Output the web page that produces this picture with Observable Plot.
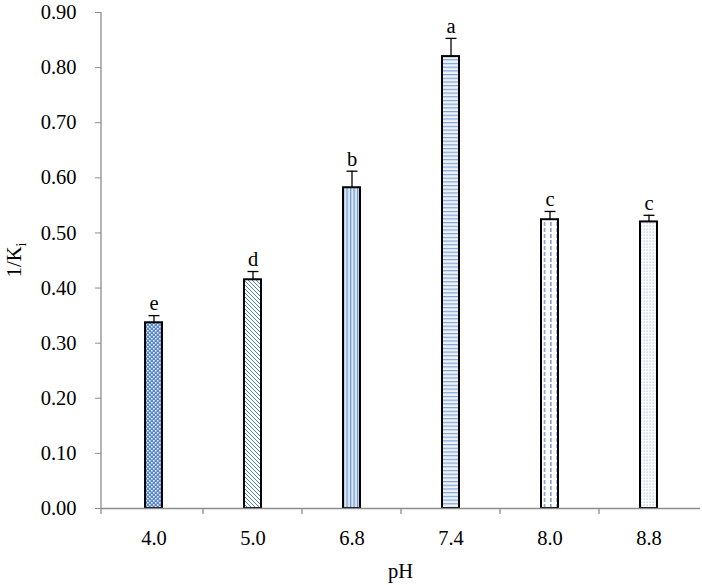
<!DOCTYPE html>
<html><head><meta charset="utf-8">
<script src="https://cdn.jsdelivr.net/npm/d3@7"></script>
<script src="https://cdn.jsdelivr.net/npm/@observablehq/plot@0.6"></script>
<style>body{margin:0;background:#fff} svg{display:block}</style>
</head><body><div id="chart"></div>
<script>
const categories = ["4.0", "5.0", "6.8", "7.4", "8.0", "8.8"];
const values = [0.337, 0.415, 0.582, 0.820, 0.524, 0.520];
const errors = [0.013, 0.015, 0.030, 0.033, 0.015, 0.012];
const letters = ["e", "d", "b", "a", "c", "c"];
const yTicks = [0, 0.1, 0.2, 0.3, 0.4, 0.5, 0.6, 0.7, 0.8, 0.9];
const xLabel = "pH";
const yLabelMain = "1/K";
const yLabelSub = "i";

const data = categories.map((c, i) => ({pH: c, v: values[i], top: values[i] + errors[i], letter: letters[i]}));
const cap = {draw(ctx, size) { const w = Math.sqrt(size / Math.PI); ctx.moveTo(-w, 0); ctx.lineTo(w, 0); }};
const font = "'Liberation Serif','Times New Roman',serif";
const axisGray = "#8c8c8c";

const svg = Plot.plot({
  width: 702, height: 585, marginLeft: 101, marginRight: 2, marginTop: 12, marginBottom: 77,
  style: {fontFamily: font, fontSize: "20.5px", background: "#fff", color: "#000", overflow: "visible"},
  x: {domain: categories, paddingInner: 0.83, paddingOuter: 0.415, tickSize: 0, tickPadding: 22, label: null},
  y: {domain: [0, 0.9], ticks: yTicks, tickFormat: d3.format(".2f"), tickSize: 6, tickPadding: 19, label: null},
  marks: [
    Plot.ruleX(data, {x: "pH", y1: "v", y2: "top", stroke: "#000", strokeWidth: 1.3}),
    Plot.dot(data, {x: "pH", y: "top", symbol: cap, r: 5.5, stroke: "#000", strokeWidth: 1.3, fill: "none"}),
    Plot.barY(data, {x: "pH", y: "v", fill: "#fff", stroke: "#000", strokeWidth: 2}),
    Plot.text(data, {x: "pH", y: "top", text: "letter", dy: -12, fontSize: 20.5, fill: "#000"}),
    Plot.ruleY([0], {stroke: axisGray, strokeWidth: 1.3})
  ]
});
document.getElementById("chart").appendChild(svg);

const root = d3.select(svg);
const blue = "#4f81bd";
const defs = root.insert("defs", ":first-child");
// pattern 0: checker dots
let p = defs.append("pattern").attr("id", "pat0").attr("patternUnits", "userSpaceOnUse").attr("width", 4).attr("height", 4);
p.append("rect").attr("width", 4).attr("height", 4).attr("fill", "#5a88c8");
p.append("rect").attr("x", 0).attr("y", 0).attr("width", 1.6).attr("height", 1.6).attr("fill", "#e6eef8");
p.append("rect").attr("x", 2).attr("y", 2).attr("width", 1.6).attr("height", 1.6).attr("fill", "#e6eef8");
// pattern 1: diagonal hatch
p = defs.append("pattern").attr("id", "pat1").attr("patternUnits", "userSpaceOnUse").attr("width", 4).attr("height", 4);
p.append("rect").attr("width", 4).attr("height", 4).attr("fill", "#fff");
p.append("path").attr("d", "M-1,-1L5,5M-1,3L1,5M3,-1L5,1").attr("stroke", blue).attr("stroke-width", 1);
// pattern 2: vertical stripes
p = defs.append("pattern").attr("id", "pat2").attr("patternUnits", "userSpaceOnUse").attr("width", 3.5).attr("height", 4);
p.append("rect").attr("width", 3.5).attr("height", 4).attr("fill", "#dbe6f4");
p.append("rect").attr("x", 0).attr("width", 1.2).attr("height", 4).attr("fill", "#6d97cf");
// pattern 3: horizontal stripes
p = defs.append("pattern").attr("id", "pat3").attr("patternUnits", "userSpaceOnUse").attr("width", 4).attr("height", 3.7);
p.append("rect").attr("width", 4).attr("height", 3.7).attr("fill", "#eef3fa");
p.append("rect").attr("y", 0).attr("width", 4).attr("height", 1.2).attr("fill", "#7ea2d4");
// pattern 4: dashed vertical lines
p = defs.append("pattern").attr("id", "pat4").attr("patternUnits", "userSpaceOnUse").attr("width", 6.3).attr("height", 6);
p.append("rect").attr("width", 6.3).attr("height", 6).attr("fill", "#fff");
p.append("rect").attr("x", 3).attr("y", 0).attr("width", 1.1).attr("height", 4).attr("fill", "#4a75b5");
// pattern 5: fine dots
p = defs.append("pattern").attr("id", "pat5").attr("patternUnits", "userSpaceOnUse").attr("width", 3).attr("height", 3);
p.append("rect").attr("width", 3).attr("height", 3).attr("fill", "#fff");
p.append("rect").attr("x", 0.5).attr("y", 0.5).attr("width", 1.2).attr("height", 1.2).attr("fill", "#a9c1e3");

const bars = svg.querySelectorAll('g[aria-label="bar"] rect');
bars.forEach((r, i) => {
  r.setAttribute("fill", `url(#pat${i})`);
  const bx = +r.getAttribute("x") || 0;
  svg.querySelector(`#pat${i}`).setAttribute("x", bx);
});

// axis colours
svg.querySelectorAll('[aria-label*="axis"] line, [aria-label*="axis"] path').forEach(el => el.setAttribute("stroke", axisGray));

const xScale = svg.scale("x"), yScale = svg.scale("y");
const y0 = yScale.apply(0), yTop = yScale.apply(0.9);
// left axis line
root.append("line").attr("x1", 101).attr("x2", 101).attr("y1", yTop).attr("y2", y0 + 6).attr("stroke", axisGray).attr("stroke-width", 1.3);
// category boundary ticks
const centers = categories.map(c => xScale.apply(c) + xScale.bandwidth / 2);
for (let i = 0; i < centers.length - 1; i++) {
  const bx = (centers[i] + centers[i + 1]) / 2;
  root.append("line").attr("x1", bx).attr("x2", bx).attr("y1", y0).attr("y2", y0 + 6).attr("stroke", axisGray).attr("stroke-width", 1.3);
}
// axis titles
root.append("text").attr("x", (101 + 700) / 2).attr("y", 578).attr("text-anchor", "middle")
  .attr("font-family", font).attr("font-size", 20.5).attr("fill", "#000").text(xLabel);
const yl = root.append("text").attr("transform", `translate(21,${(y0 + yTop) / 2}) rotate(-90)`).attr("text-anchor", "middle")
  .attr("font-family", font).attr("font-size", 20.5).attr("fill", "#000");
yl.append("tspan").text(yLabelMain);
yl.append("tspan").attr("font-size", 14).attr("dy", 5).text(yLabelSub);
</script>
</body></html>
